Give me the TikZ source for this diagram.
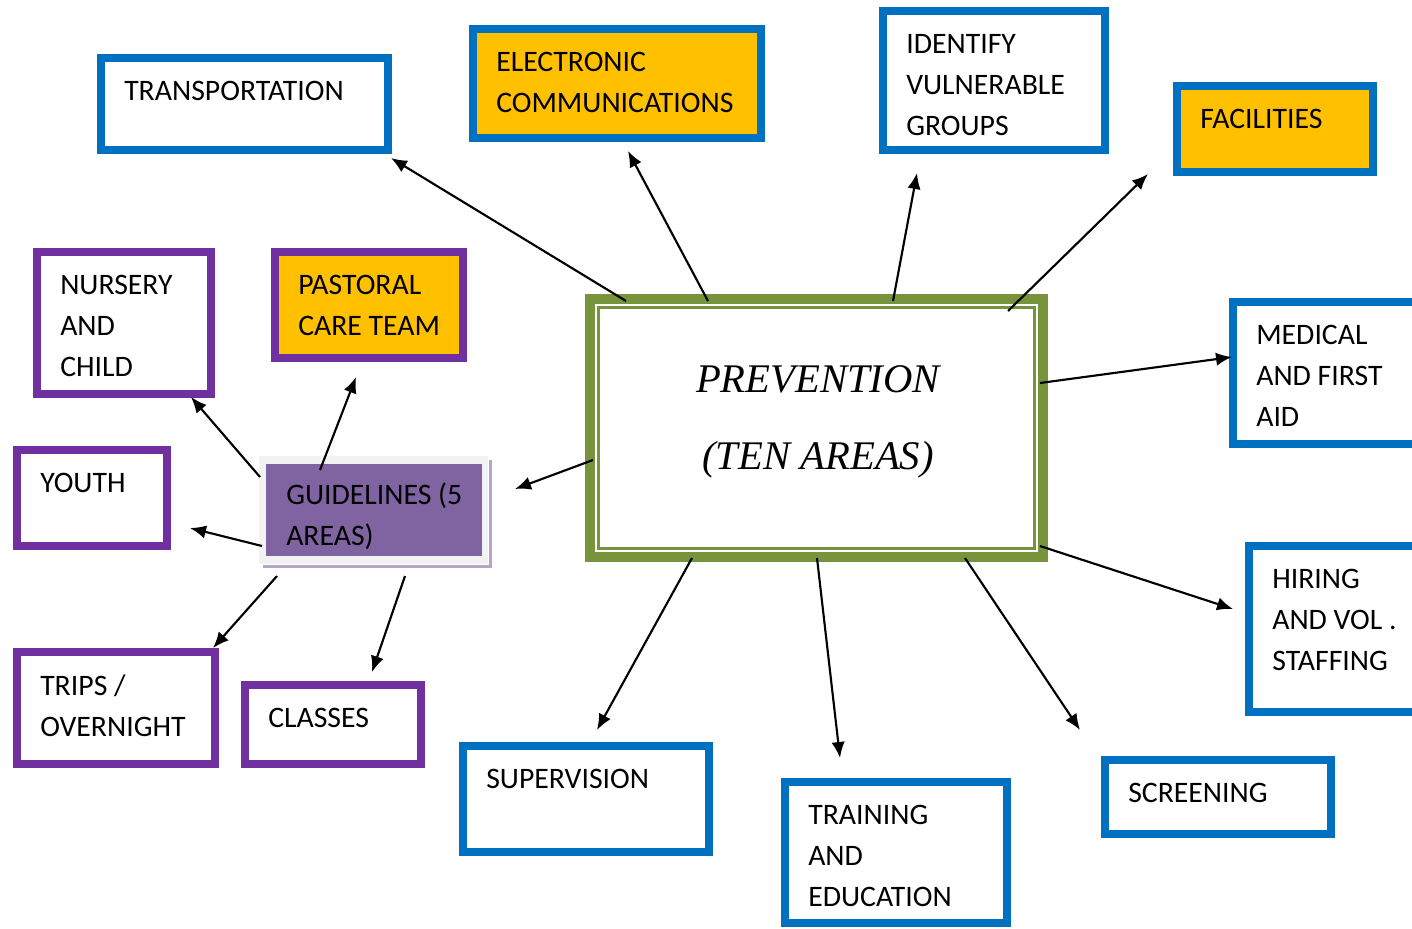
\documentclass[tikz,border=0pt]{standalone}
\usepackage{fontspec}
\setmainfont{Carlito}
\newfontfamily\prevfont{Liberation Serif}
\usetikzlibrary{arrows.meta,calc}
\definecolor{bbl}{HTML}{0070C0}
\definecolor{ppl}{HTML}{7030A0}
\definecolor{org}{HTML}{FFC000}
\definecolor{grn}{HTML}{77933C}
\definecolor{gpl}{HTML}{8064A2}
\definecolor{gfr}{HTML}{F2F2F2}
\definecolor{gsh}{HTML}{B4A7C6}
\tikzset{
  boxbase/.style={draw, line width=6pt, inner sep=0pt, anchor=north west},
  bluebox/.style={boxbase, draw=bbl, fill=white},
  blueorg/.style={boxbase, draw=bbl, fill=org},
  purplebox/.style={boxbase, draw=ppl, fill=white},
  purpleorg/.style={boxbase, draw=ppl, fill=org},
  lbl/.style={font=\fontsize{22.3pt}{30.75pt}\selectfont, align=left, inner sep=0pt, anchor=north west},
  arr/.style={line width=1.6pt, -{Latex[length=12pt,width=10pt]}},
}
\newcommand\bx[7]{%
  \node[#6, minimum width={(#4-#2-8)*0.75pt}, minimum height={(#5-#3-8)*0.75pt}] (#1) at (#2,#3) {};
  \node[lbl] (#1t) at (#2+27,#3+27) {#7};
}
\begin{document}
\begin{tikzpicture}[x=0.75pt,y=-0.75pt]
\useasboundingbox (0,0) rectangle (1412,928);
\fill[white] (0,0) rectangle (1412,928);

% central box
\node[draw=grn, line width=7.5pt, fill=white, inner sep=0pt, anchor=north west,
      minimum width={453*0.75pt}, minimum height={258*0.75pt}] (prev) at (585,294) {};
\draw[grn, line width=2.25pt] ($(prev.north west)+(13.5,13.5)$) rectangle ($(prev.south east)+(-13.5,-13.5)$);
\node[font=\prevfont\itshape\fontsize{30.5pt}{57.75pt}\selectfont, align=center, inner sep=0pt, anchor=north]
  (prevt) at (818,365) {PREVENTION\\(TEN AREAS)};

% blue boxes
\bx{trans}{97}{54}{392}{154}{bluebox}{TRANSPORTATION}
\bx{elec}{469}{25}{765}{142}{blueorg}{ELECTRONIC\\COMMUNICATIONS}
\bx{ident}{879}{7}{1109}{154}{bluebox}{IDENTIFY\\VULNERABLE\\GROUPS}
\bx{fac}{1173}{82}{1377}{176}{blueorg}{FACILITIES}
\bx{med}{1229}{298}{1425}{448}{bluebox}{MEDICAL\\AND FIRST\\AID}
\bx{hire}{1245}{542}{1425}{716}{bluebox}{HIRING\\AND VOL .\\STAFFING}
\bx{scr}{1101}{756}{1335}{838}{bluebox}{SCREENING}
\bx{train}{781}{778}{1011}{927}{bluebox}{TRAINING\\AND\\EDUCATION}
\bx{sup}{459}{742}{713}{856}{bluebox}{SUPERVISION}

% purple boxes
\bx{cls}{241}{681}{425}{768}{purplebox}{CLASSES}
\bx{trips}{13}{648}{219}{768}{purplebox}{TRIPS /\\OVERNIGHT}
\bx{youth}{13}{446}{171}{550}{purplebox}{YOUTH}
\bx{nurs}{33}{248}{215}{398}{purplebox}{NURSERY\\AND\\CHILD}
\bx{past}{271}{248}{467}{362}{purpleorg}{PASTORAL\\CARE TEAM}

% guidelines box
\fill[gsh] (263,460) rectangle (492,568);
\fill[white] (261,458) rectangle (489,565);
\node[fill=gfr, inner sep=0pt, outer sep=0pt, anchor=north west, minimum width={229*0.75pt}, minimum height={108*0.75pt}] (gfrm) at (259,456) {};
\node[fill=gpl, inner sep=0pt, outer sep=0pt, anchor=north west, minimum width={216*0.75pt}, minimum height={92*0.75pt}] (guide) at (266,464) {};
\node[lbl] (guidet) at (286,482) {GUIDELINES (5\\AREAS)};

% arrow end points
\coordinate (s1) at (626,301); \coordinate (e1) at (391,158);
\coordinate (s2) at (708,301); \coordinate (e2) at (628,151);
\coordinate (s3) at (893,301); \coordinate (e3) at (917,173);
\coordinate (s4) at (1008,311); \coordinate (e4) at (1148,174);
\coordinate (s5) at (1040,383); \coordinate (e5) at (1232,357);
\coordinate (s6) at (1040,546); \coordinate (e6) at (1233,609);
\coordinate (s7) at (965,558); \coordinate (e7) at (1080,730);
\coordinate (s8) at (817,558); \coordinate (e8) at (840,758);
\coordinate (s9) at (692,558); \coordinate (e9) at (597,730);
\coordinate (s10) at (593,460); \coordinate (e10) at (515,489);
\coordinate (g1) at (320,470); \coordinate (f1) at (356,377);
\coordinate (g2) at (260,477); \coordinate (f2) at (191,397);
\coordinate (g3) at (262,546); \coordinate (f3) at (190,528);
\coordinate (g4) at (277,576); \coordinate (f4) at (213,648);
\coordinate (g5) at (405,576); \coordinate (f5) at (372,672);

\foreach \i in {1,...,10} { \draw[arr] (s\i) -- (e\i); }
\foreach \i in {1,...,5} { \draw[arr] (g\i) -- (f\i); }
\end{tikzpicture}
\end{document}
